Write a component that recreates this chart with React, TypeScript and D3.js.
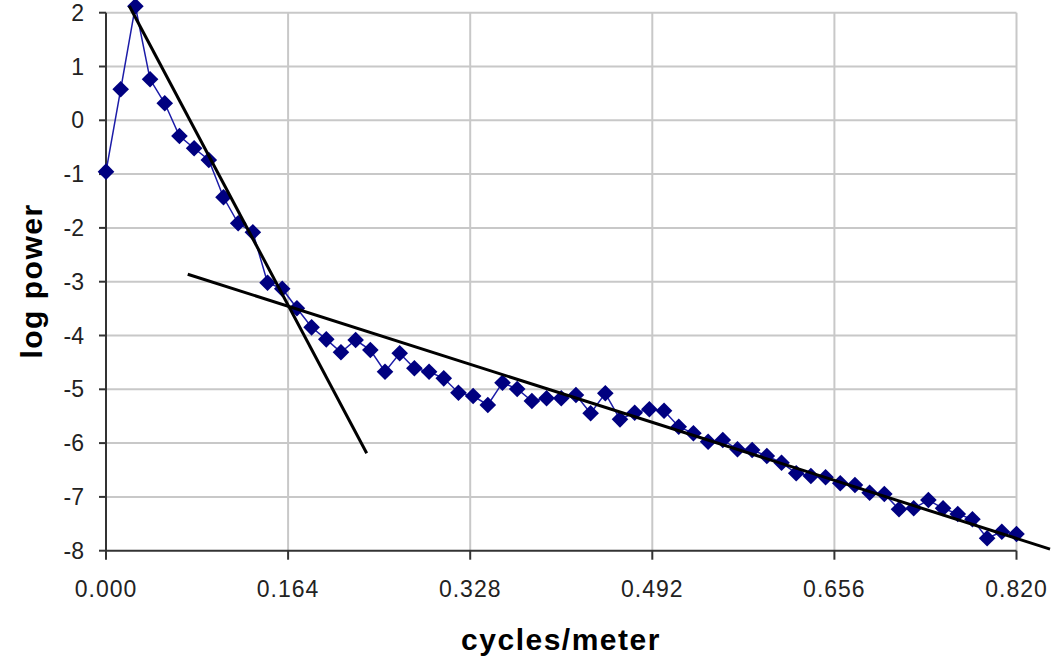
import React from "react";
import * as d3 from "d3";

// Spectrum: frequency bins (cycles/meter) and log power per bin
const BIN_COUNT = 63;
const X_MAX = 0.82;
const logPower: number[] = [
  -0.955, 0.576, 2.12, 0.762, 0.316, -0.292, -0.52, -0.738, -1.431, -1.914,
  -2.082, -3.019, -3.13, -3.494, -3.848, -4.071, -4.312, -4.084, -4.27, -4.673,
  -4.331, -4.61, -4.673, -4.796, -5.063, -5.125, -5.292, -4.877, -4.994, -5.217,
  -5.167, -5.167, -5.106, -5.446, -5.074, -5.558, -5.435, -5.372, -5.398, -5.695,
  -5.818, -5.974, -5.942, -6.115, -6.128, -6.24, -6.364, -6.561, -6.612, -6.636,
  -6.747, -6.779, -6.922, -6.946, -7.23, -7.212, -7.058, -7.212, -7.318, -7.416,
  -7.769, -7.647, -7.69,
];
const frequency: number[] = logPower.map((_, i) => (i * X_MAX) / (BIN_COUNT - 1));

// Fitted slope segments [x0, y0, x1, y1]
const steepFit: number[] = [0.021, 2.125, 0.2348, -6.19];
const shallowFit: number[] = [0.0736, -2.862, 0.8502, -7.97];

const xTicks: number[] = [0, 0.164, 0.328, 0.492, 0.656, 0.82];
const yTicks: number[] = [2, 1, 0, -1, -2, -3, -4, -5, -6, -7, -8];

const W = 1054;
const H = 661;
const LEFT = 106;
const RIGHT = 1016.5;
const TOP = 12.7;
const BOTTOM = 550.7;

export default function App() {
  const x = d3.scaleLinear().domain([0, X_MAX]).range([LEFT, RIGHT]);
  const y = d3.scaleLinear().domain([-8, 2]).range([BOTTOM, TOP]);

  const line = d3
    .line<number>()
    .x((_, i) => x(frequency[i]))
    .y((d) => y(d));

  const diamond = d3.symbol().type(d3.symbolSquare).size(138)() as string;
  const fmtX = d3.format(".3f");
  const font = "'Liberation Sans', Arial, sans-serif";

  return (
    <svg
      width={W}
      height={H}
      style={{ position: "absolute", left: 0, top: 0, background: "#fff" }}
    >
      {/* grid */}
      <g stroke="#c8c8c8" strokeWidth={2}>
        {yTicks
          .filter((t) => t !== -8)
          .map((t) => (
            <line key={"gy" + t} x1={LEFT} x2={RIGHT} y1={y(t)} y2={y(t)} />
          ))}
        {xTicks
          .filter((t) => t !== 0)
          .map((t) => (
            <line key={"gx" + t} x1={x(t)} x2={x(t)} y1={TOP} y2={BOTTOM} />
          ))}
      </g>

      {/* axes */}
      <g stroke="#333" strokeWidth={2}>
        <line x1={LEFT} x2={LEFT} y1={TOP} y2={BOTTOM} />
        <line x1={LEFT} x2={RIGHT} y1={BOTTOM} y2={BOTTOM} />
        {yTicks.map((t) => (
          <line key={"ty" + t} x1={LEFT - 7} x2={LEFT} y1={y(t)} y2={y(t)} />
        ))}
        {xTicks.map((t) => (
          <line key={"tx" + t} x1={x(t)} x2={x(t)} y1={BOTTOM} y2={BOTTOM + 9} />
        ))}
      </g>

      <g fontFamily={font} fontSize={23} fill="#222">
        {yTicks.map((t) => (
          <text
            key={"ly" + t}
            x={LEFT - 22}
            y={y(t)}
            dy="0.35em"
            textAnchor="end"
          >
            {t}
          </text>
        ))}
        {xTicks.map((t) => (
          <text
            key={"lx" + t}
            x={x(t)}
            y={597}
            textAnchor="middle"
            letterSpacing={1}
          >
            {fmtX(t)}
          </text>
        ))}
      </g>

      {/* axis titles */}
      <text
        x={561}
        y={650}
        textAnchor="middle"
        fontFamily={font}
        fontWeight="bold"
        fontSize={30}
        letterSpacing={1.5}
        fill="#000"
      >
        cycles/meter
      </text>
      <text
        transform={`translate(42, 281) rotate(-90)`}
        textAnchor="middle"
        fontFamily={font}
        fontWeight="bold"
        fontSize={30}
        letterSpacing={1.5}
        fill="#000"
      >
        log power
      </text>

      {/* series */}
      <path d={line(logPower) ?? ""} fill="none" stroke="#1c1ca8" strokeWidth={1.5} />
      <g fill="#000080">
        {logPower.map((v, i) => (
          <path
            key={"m" + i}
            d={diamond}
            transform={`translate(${x(frequency[i])}, ${y(v)}) rotate(45)`}
          />
        ))}
      </g>

      {/* fitted slopes */}
      <g stroke="#000" strokeWidth={3}>
        {[steepFit, shallowFit].map((f, i) => (
          <line key={"fit" + i} x1={x(f[0])} y1={y(f[1])} x2={x(f[2])} y2={y(f[3])} />
        ))}
      </g>
    </svg>
  );
}
